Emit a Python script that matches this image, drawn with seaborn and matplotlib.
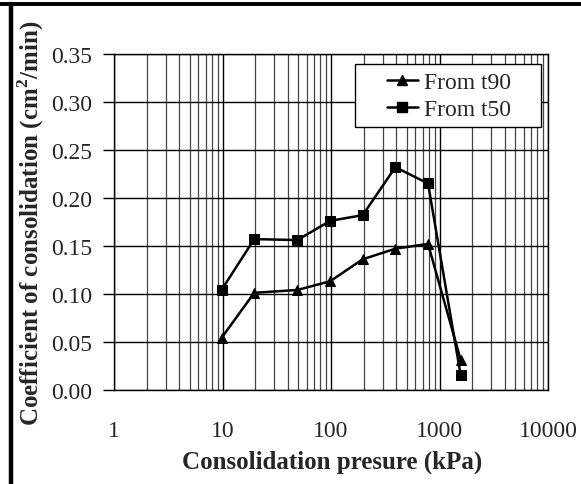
import numpy as np
import pandas as pd
import matplotlib
matplotlib.use("Agg")
import matplotlib.pyplot as plt
from matplotlib.lines import Line2D
from matplotlib.patches import Rectangle
from matplotlib.ticker import FixedLocator, NullFormatter, LogLocator
import seaborn as sns

# Consolidation test results
pressure = [9.8, 19.6, 49, 98, 196, 392, 784, 1568]          # kPa
cv_t90 = [0.054, 0.101, 0.104, 0.113, 0.136, 0.147, 0.152, 0.031]
cv_t50 = [0.104, 0.157, 0.156, 0.176, 0.182, 0.232, 0.215, 0.015]
series_names = ["From t90", "From t50"]

x_ticks = [1, 10, 100, 1000, 10000]
x_tick_labels = ["1", "10", "100", "1000", "10000"]
y_ticks = [0.00, 0.05, 0.10, 0.15, 0.20, 0.25, 0.30, 0.35]
y_tick_labels = ["0.00", "0.05", "0.10", "0.15", "0.20", "0.25", "0.30", "0.35"]

x_label = "Consolidation presure (kPa)"
y_label = "Coefficient of consolidation (cm$^\\mathbf{2}$/min)"

df = pd.DataFrame({
    "pressure": pressure * 2,
    "cv": cv_t90 + cv_t50,
    "series": [series_names[0]] * len(pressure) + [series_names[1]] * len(pressure),
})

sns.set_style("white")
plt.rcParams["font.family"] = ["Liberation Serif", "DejaVu Serif"]
plt.rcParams["mathtext.fontset"] = "custom"
plt.rcParams["mathtext.rm"] = "Liberation Serif"
plt.rcParams["mathtext.bf"] = "Liberation Serif:bold"

W, H = 581, 485
fig = plt.figure(figsize=(W / 100, H / 100), dpi=100)
fig.patch.set_facecolor("white")

left, right, top, bottom = 114, 548, 55, 390.7
ax = fig.add_axes([left / W, 1 - bottom / H, (right - left) / W, (bottom - top) / H])

sns.lineplot(
    data=df, x="pressure", y="cv", hue="series", style="series",
    palette={series_names[0]: "black", series_names[1]: "black"},
    markers={series_names[0]: "^", series_names[1]: "s"},
    dashes=False, markersize=6.5, linewidth=1.8, markeredgecolor="black",
    sort=False, ax=ax, legend=False, zorder=5,
)

ax.set_xscale("log")
ax.set_xlim(1, 10000)
ax.set_ylim(0, 0.35)

ax.xaxis.set_major_locator(FixedLocator(x_ticks))
ax.set_xticklabels(x_tick_labels)
ax.xaxis.set_minor_locator(LogLocator(base=10, subs=np.arange(2, 10)))
ax.xaxis.set_minor_formatter(NullFormatter())
ax.set_yticks(y_ticks)
ax.set_yticklabels(y_tick_labels)

ax.tick_params(axis="x", which="major", direction="out", length=8, width=1,
               color="black", pad=14, labelsize=17)
ax.tick_params(axis="x", which="minor", length=0)
ax.tick_params(axis="y", which="major", direction="out", length=8, width=1,
               color="black", pad=8, labelsize=17, left=True)
ax.set_xlabel("")
ax.set_ylabel("")

ax.grid(True, which="major", axis="both", color="black", linewidth=1.0, zorder=0)
ax.grid(True, which="minor", axis="x", color="#444444", linewidth=0.9, zorder=0)
ax.set_axisbelow(True)
for s in ax.spines.values():
    s.set_visible(True)
    s.set_color("black")
    s.set_linewidth(1.0)

# Legend box and entries
ax_w, ax_h = right - left, bottom - top
box_x0, box_x1, box_y0, box_y1 = 355, 541, 65, 128
ax.add_patch(Rectangle(((box_x0 - left) / ax_w, (bottom - box_y1) / ax_h),
                       (box_x1 - box_x0) / ax_w, (box_y1 - box_y0) / ax_h,
                       transform=ax.transAxes, facecolor="white", edgecolor="black",
                       linewidth=1.0, zorder=6))
handles = [
    Line2D([0], [0], color="black", lw=1.8, marker="^", markersize=6.5),
    Line2D([0], [0], color="black", lw=1.8, marker="s", markersize=6.5),
]
leg = ax.legend(handles, series_names, loc="center left",
                bbox_to_anchor=((387 - left) / ax_w, (bottom - 97) / ax_h),
                fontsize=17, frameon=False, handlelength=1.31, handletextpad=0.25,
                borderpad=0, labelspacing=0.25, borderaxespad=0)
leg.set_zorder(7)

fig.text(332 / W, 1 - 462 / H, x_label, ha="center", va="center",
         fontsize=18, fontweight="bold")
fig.text(31 / W, 1 - 223 / H, y_label, ha="center", va="center",
         fontsize=18, fontweight="bold", rotation=90)

# Outer frame on the top and left edges
fig.add_artist(Line2D([0, 1], [1 - 4.5 / H, 1 - 4.5 / H], color="black", lw=2.8,
                      transform=fig.transFigure))
fig.add_artist(Line2D([10.5 / W, 10.5 / W], [0, 1 - 4.5 / H], color="black", lw=3.2,
                      transform=fig.transFigure))

fig.savefig("out.png", dpi=100, facecolor="white")
